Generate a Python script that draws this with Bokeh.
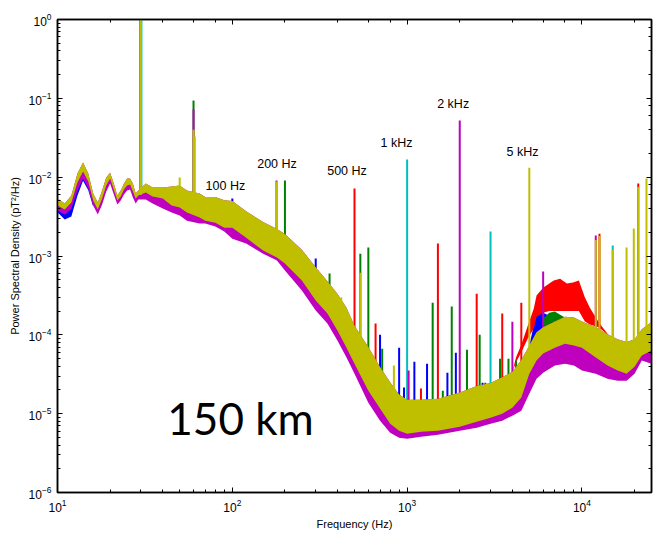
from bokeh.plotting import figure
from bokeh.models import LogAxis, LogTicker, Label, Range1d
from bokeh.embed import file_html
from bokeh.resources import INLINE

# ---------------- data ----------------
FREQ = [10, 11, 12, 13, 14, 15, 16, 17, 18, 19,
        20, 21, 22, 23, 24, 25, 26, 27, 28, 29,
        32, 35, 40, 45, 50, 55, 65, 70, 80, 90,
        100, 120, 150, 180, 200, 250, 300, 350, 400, 450,
        500, 600, 700, 800, 900, 1000, 1200, 1500, 2000, 2500,
        3000, 3500, 4000, 4500, 5000, 5500, 6000, 7000, 8000, 9000,
        10000, 12000, 14000, 16000, 18000, 20000, 22000, 25000]

YEL_HI = [5.35e-3, 4.62e-3, 5.84e-3, 1.11e-2, 1.53e-2, 1.11e-2, 6.19e-3, 4.76e-3, 6.76e-3, 9.89e-3,
          1.14e-2, 8.30e-3, 5.84e-3, 6.76e-3, 8.30e-3, 9.60e-3, 9.60e-3, 8.30e-3, 6.19e-3, 6.76e-3,
          8.30e-3, 7.38e-3, 7.38e-3, 7.60e-3, 7.82e-3, 6.76e-3, 6.19e-3, 5.6e-3, 5.6e-3, 5.1e-3,
          5.0e-3, 3.7e-3, 2.7e-3, 2.2e-3, 1.9e-3, 1.2e-3, 7.2e-4, 4.8e-4, 3.3e-4, 2.2e-4,
          1.3e-4, 7.0e-5, 3.9e-5, 2.5e-5, 1.75e-5, 1.5e-5, 1.5e-5, 1.55e-5, 1.85e-5, 2.25e-5,
          2.45e-5, 2.9e-5, 3.4e-5, 4.8e-5, 7.3e-5, 1.08e-4, 1.25e-4, 1.48e-4, 1.70e-4, 1.66e-4,
          1.48e-4, 1.25e-4, 1.02e-4, 8.8e-5, 8.1e-5, 8.8e-5, 1.18e-4, 1.45e-4]

YEL_LO = [4.36e-3, 3.88e-3, 4.76e-3, 8.55e-3, 1.18e-2, 8.80e-3, 5.05e-3, 3.88e-3, 5.35e-3, 7.82e-3,
          9.60e-3, 6.96e-3, 5.05e-3, 5.67e-3, 6.96e-3, 7.82e-3, 8.06e-3, 6.57e-3, 5.35e-3, 5.84e-3,
          6.38e-3, 5.67e-3, 5.35e-3, 4.36e-3, 4.11e-3, 3.56e-3, 3.07e-3, 2.81e-3, 2.65e-3, 2.29e-3,
          2.29e-3, 1.71e-3, 1.17e-3, 9.55e-4, 8.01e-4, 4.88e-4, 2.72e-4, 1.86e-4, 1.13e-4, 6.88e-5,
          4.31e-5, 1.96e-5, 1.16e-5, 7.47e-6, 6.08e-6, 5.57e-6, 5.91e-6, 6.08e-6, 6.84e-6, 7.92e-6,
          8.89e-6, 1.00e-5, 1.19e-5, 1.60e-5, 3.22e-5, 4.71e-5, 5.78e-5, 6.88e-5, 7.73e-5, 7.30e-5,
          6.88e-5, 5.14e-5, 4.07e-5, 3.52e-5, 3.22e-5, 3.95e-5, 5.45e-5, 6.31e-5]

MAG_LO = [3.77e-3, 3.35e-3, 4.00e-3, 6.76e-3, 9.60e-3, 7.17e-3, 4.36e-3, 3.35e-3, 4.49e-3, 6.57e-3,
          8.30e-3, 6.01e-3, 4.49e-3, 5.05e-3, 6.01e-3, 6.76e-3, 6.96e-3, 5.51e-3, 4.62e-3, 5.20e-3,
          5.20e-3, 4.62e-3, 4.00e-3, 3.56e-3, 3.26e-3, 2.81e-3, 2.58e-3, 2.58e-3, 2.36e-3, 2.04e-3,
          1.66e-3, 1.44e-3, 1.07e-3, 8.75e-4, 6.53e-4, 3.64e-4, 2.03e-4, 1.39e-4, 8.44e-5, 5.14e-5,
          3.22e-5, 1.38e-5, 8.15e-6, 5.74e-6, 4.96e-6, 4.82e-6, 5.11e-6, 5.42e-6, 6.08e-6, 6.64e-6,
          7.47e-6, 8.15e-6, 9.44e-6, 1.09e-5, 1.79e-5, 2.78e-5, 3.31e-5, 4.07e-5, 4.31e-5, 4.07e-5,
          3.52e-5, 3.22e-5, 2.78e-5, 2.62e-5, 2.62e-5, 3.22e-5, 4.71e-5, 4.31e-5]

# blue trace dipping below the others at the lowest frequencies
BLUE_LOW_F = [10, 11, 12, 13, 14, 15, 16]
BLUE_LOW_LO = [3.6e-3, 2.9e-3, 3.16e-3, 5.8e-3, 9.0e-3, 6.8e-3, 4.2e-3]
BLUE_LOW_HI = [4.36e-3, 3.88e-3, 4.76e-3, 8.55e-3, 1.18e-2, 8.8e-3, 5.05e-3]

# red hump between 4 and 15 kHz
RED_F = [4000, 4200, 4500, 4900, 5300, 5500, 6000, 6500, 6900, 7500,
         8200, 8900, 9600, 10400, 11100, 12500, 14400]
RED_HI = [3.4e-5, 5.2e-5, 7.5e-5, 1.3e-4, 2.15e-4, 3.15e-4, 3.97e-4, 4.47e-4, 4.88e-4, 5.16e-4,
          4.47e-4, 4.60e-4, 4.88e-4, 2.97e-4, 2.21e-4, 1.43e-4, 9.5e-5]
RED_LO = [3.4e-5, 4.5e-5, 6.0e-5, 9.0e-5, 1.2e-4, 1.7e-4, 1.9e-4, 2.0e-4, 2.0e-4, 2.0e-4,
          2.0e-4, 2.0e-4, 2.0e-4, 1.48e-4, 1.35e-4, 1.25e-4, 9.5e-5]

BLUE_F = [5000, 5300, 5500, 6000, 6500, 7000, 7500]
BLUE_HI = [7.3e-5, 1.31e-4, 1.86e-4, 1.91e-4, 1.75e-4, 1.61e-4, 1.51e-4]
BLUE_LO = [3.22e-5, 4.0e-5, 4.71e-5, 5.78e-5, 6.3e-5, 6.88e-5, 7.3e-5]

GREEN_F = [6000, 6500, 7000, 7500, 8000]
GREEN_HI = [1.61e-4, 1.91e-4, 1.97e-4, 1.80e-4, 1.66e-4]
GREEN_LO = [5.78e-5, 6.3e-5, 6.88e-5, 7.3e-5, 7.73e-5]

# narrow spectral lines: frequency (Hz), peak, foot, series colour
SPK_F = [100, 300, 700, 900, 960, 1100, 1300, 1700, 1900, 2700, 3100,
         60, 200, 360, 540, 600, 720, 1400, 1600, 1800, 2200, 2600, 2800, 3400, 3800, 4200,
         29.8, 500, 660, 1200, 1500, 2500, 3500, 4500, 12600, 21000,
         30.2, 1000, 3000, 15000,
         30, 60, 179, 1020, 2000, 4000, 6000, 12000,
         30, 50, 60, 61, 180, 420, 540, 840, 5000, 12000, 12600, 15000, 18000, 19800, 21000, 23400]
SPK_TOP = [5.35e-3, 9.27e-4, 1.0e-4, 6.88e-5, 2.14e-5, 4.57e-5, 4.31e-5, 3.31e-5, 5.94e-5, 2.47e-5, 2.40e-5,
           9.4e-2, 9.06e-3, 5.98e-4, 1.07e-3, 1.28e-3, 6.68e-5, 2.56e-4, 1.96e-5, 2.28e-4, 6.49e-5, 1.0e-4,
           2.47e-5, 4.99e-5, 4.99e-5, 4.71e-5,
           1.5, 7.17e-3, 1.39e-4, 2.08e-5, 1.44e-3, 3.33e-4, 1.86e-4, 2.56e-4, 1.92e-3, 8.3e-3,
           1.5, 1.67e-2, 2.04e-3, 1.36e-3,
           1.5, 7.2e-2, 9.06e-3, 3.52e-5, 5.23e-2, 1.47e-4, 6.34e-4, 1.82e-3,
           1.5, 9.9e-3, 4.0e-2, 3.27e-2, 8.8e-3, 2.97e-4, 6.15e-4, 4.07e-5, 1.32e-2, 1.6e-3, 1.8e-3,
           1.2e-3, 1.28e-3, 2.23e-3, 7.5e-3, 9.6e-3]
SPK_BASE = [3.0e-3, 4.0e-4, 2.0e-5, 1.0e-5, 8.0e-6, 8.0e-6, 8.0e-6, 9.0e-6, 9.0e-6, 1.1e-5, 1.2e-5,
            5.0e-3, 1.2e-3, 2.0e-4, 6.0e-5, 4.0e-5, 1.5e-5, 8.0e-6, 8.0e-6, 9.0e-6, 1.0e-5, 1.1e-5,
            1.1e-5, 1.3e-5, 1.4e-5, 1.6e-5,
            6.0e-3, 6.0e-5, 2.0e-5, 8.0e-6, 8.0e-6, 1.0e-5, 1.3e-5, 2.0e-5, 8.0e-5, 8.0e-5,
            6.0e-3, 8.0e-6, 1.2e-5, 7.0e-5,
            6.0e-3, 5.0e-3, 1.5e-3, 8.0e-6, 9.0e-6, 1.5e-5, 8.0e-5, 8.0e-5,
            6.0e-3, 5.0e-3, 5.0e-3, 5.0e-3, 1.5e-3, 1.5e-4, 6.0e-5, 1.2e-5, 4.0e-5, 8.0e-5, 8.0e-5,
            7.0e-5, 6.0e-5, 6.0e-5, 7.0e-5, 8.0e-5]
SPK_COL = ["b"] * 11 + ["g"] * 15 + ["r"] * 10 + ["c"] * 4 + ["m"] * 8 + ["y"] * 16

COLORS = {"b": "#0000FF", "g": "#008000", "r": "#FF0000",
          "c": "#00BFBF", "m": "#BF00BF", "y": "#BFBF00"}

LABELS = ["100 Hz", "200 Hz", "500 Hz", "1 kHz", "2 kHz", "5 kHz"]

# ---------------- figure ----------------
p = figure(width=663, height=534, x_axis_type="log", y_axis_type="log",
           x_range=Range1d(10, 25000), y_range=Range1d(1e-6, 1),
           output_backend="svg", toolbar_location=None,
           min_border_left=57, min_border_right=12, min_border_top=19, min_border_bottom=42)
p.grid.visible = False
p.outline_line_color = "black"
p.outline_line_width = 1.5
p.background_fill_color = "white"
p.border_fill_color = "white"

TICK_FONT = "Liberation Sans"
for ax in p.axis:
    ax.axis_line_width = 1.5
    ax.major_tick_in = 5
    ax.major_tick_out = 0
    ax.minor_tick_in = 3
    ax.minor_tick_out = 0
    ax.major_label_text_font = TICK_FONT
    ax.major_label_text_font_size = "12px"
    ax.major_label_text_color = "black"
    ax.axis_label_text_font = TICK_FONT
    ax.axis_label_text_font_size = "11px"
    ax.axis_label_text_font_style = "normal"
    ax.axis_label_text_color = "black"

p.xaxis.axis_label = "Frequency (Hz)"
p.xaxis.major_label_standoff = 6
p.xaxis.axis_label_standoff = 3
p.yaxis.axis_label = "Power Spectral Density (pT\u00b2/Hz)"
p.yaxis.major_label_standoff = 6
p.yaxis.axis_label_standoff = 5

for loc in ("above", "right"):
    ax = LogAxis(ticker=LogTicker())
    ax.axis_line_width = 1.5
    ax.major_tick_in = 5
    ax.major_tick_out = 0
    ax.minor_tick_in = 3
    ax.minor_tick_out = 0
    ax.major_label_text_font_size = "1px"
    ax.major_label_text_alpha = 0.0
    ax.major_label_standoff = 0
    p.add_layout(ax, loc)

# lower layers (b, g, r series)
p.varea(x=BLUE_LOW_F, y1=BLUE_LOW_LO, y2=BLUE_LOW_HI, fill_color=COLORS["b"])
p.varea(x=BLUE_F, y1=BLUE_LO, y2=BLUE_HI, fill_color=COLORS["b"])
p.varea(x=GREEN_F, y1=GREEN_LO, y2=GREEN_HI, fill_color=COLORS["g"])
p.varea(x=RED_F, y1=RED_LO, y2=RED_HI, fill_color=COLORS["r"])

# spectral lines of the non-yellow series
idx = [i for i, c in enumerate(SPK_COL) if c != "y"]
p.segment(x0=[SPK_F[i] for i in idx], y0=[SPK_BASE[i] for i in idx],
          x1=[SPK_F[i] for i in idx], y1=[SPK_TOP[i] for i in idx],
          line_color=[COLORS[SPK_COL[i]] for i in idx], line_width=2)

# magenta and yellow series on top
p.varea(x=FREQ, y1=MAG_LO, y2=YEL_HI, fill_color=COLORS["m"])
p.varea(x=FREQ, y1=YEL_LO, y2=YEL_HI, fill_color=COLORS["y"])

idy = [i for i, c in enumerate(SPK_COL) if c == "y"]
p.segment(x0=[SPK_F[i] for i in idy], y0=[SPK_BASE[i] for i in idy],
          x1=[SPK_F[i] for i in idy], y1=[SPK_TOP[i] for i in idy],
          line_color=COLORS["y"], line_width=2)

# annotations
label_pos = [(70.3, 7.82e-3), (138.8, 1.45e-2), (349, 1.18e-2),
             (705, 2.75e-2), (1486, 8.59e-2), (3707, 2.11e-2)]
for txt, (lx, ly) in zip(LABELS, label_pos):
    p.add_layout(Label(x=lx, y=ly, text=txt, text_baseline="middle",
                       text_font=TICK_FONT, text_font_size="12.5px", text_color="black"))

p.add_layout(Label(x=42.5, y=8.9e-6, text="150 km", text_baseline="alphabetic",
                   text_font="Lato", text_font_size="44px", text_color="black"))

out = file_html(p, INLINE)
open("out.html", "w").write(out)
